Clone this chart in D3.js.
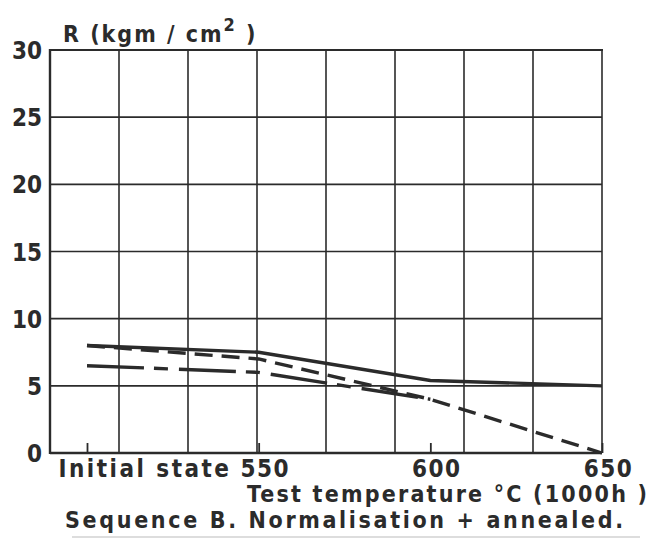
<!DOCTYPE html>
<html>
<head>
<meta charset="utf-8">
<script src="https://cdn.jsdelivr.net/npm/d3@7"></script>
<style>
  body { margin: 0; background: #fff; }
  svg { display: block; }
  text { font-family: 'DejaVu Sans Condensed', 'DejaVu Sans', sans-serif; font-stretch: condensed; font-weight: bold; fill: #2b2b2b; }
  .grid line, .grid path { stroke: #2b2b2b; stroke-width: 1.6; }
</style>
</head>
<body>
<div class="container"></div>
<script>
// temperatures ("Initial state" is placed as if it were 500)
const temps = [500, 550, 600, 650];
const tickLabels = ['Initial state', '550', '600', '650'];
const yTicks = [0, 5, 10, 15, 20, 25, 30];

// R (kgm/cm2)
const solidValues = [8.0, 7.5, 5.4, 5.0];
const dashedValues = [8.0, 7.0, 4.0, 0.0];
const longDashValues = [6.5, 6.0, 4.0];

const config = {w: 653, h: 538, left: 50, right: 602, top: 50, bottom: 453};

const svg = d3.select('.container').append('svg')
  .attr('width', config.w)
  .attr('height', config.h);

const y = d3.scaleLinear().domain([0, 30]).range([config.bottom, config.top]);
const gx = d3.scaleLinear().domain([0, 8]).range([config.left, config.right]);
const x = d3.scaleLinear().domain([500, 650]).range([87, config.right]);

// grid
const grid = svg.append('g').attr('class', 'grid');
grid.selectAll('line.v')
  .data(d3.range(0, 9))
  .enter().append('line')
    .attr('class', 'v')
    .attr('x1', d => gx(d)).attr('x2', d => gx(d))
    .attr('y1', config.top).attr('y2', config.bottom);
grid.selectAll('line.h')
  .data(yTicks)
  .enter().append('line')
    .attr('class', 'h')
    .attr('x1', config.left).attr('x2', config.right)
    .attr('y1', d => y(d)).attr('y2', d => y(d));

// frame: left and top a little heavier
svg.append('line')
  .attr('x1', config.left).attr('x2', config.left)
  .attr('y1', config.top - 1).attr('y2', config.bottom + 1)
  .attr('stroke', '#2b2b2b').attr('stroke-width', 2.4);
svg.append('line')
  .attr('x1', config.left).attr('x2', config.right + 1)
  .attr('y1', config.top).attr('y2', config.top)
  .attr('stroke', '#2b2b2b').attr('stroke-width', 2.2);

// y axis labels
const yAxis = svg.append('g')
  .attr('transform', `translate(${config.left},0)`)
  .call(d3.axisLeft(y).tickValues(yTicks).tickSize(0).tickPadding(8));
yAxis.select('.domain').remove();
yAxis.selectAll('text')
  .attr('font-size', 24)
  .attr('fill', '#2b2b2b')
  .attr('font-family', null)
  .attr('dy', '0.36em');

// x axis
const xAxis = svg.append('g')
  .attr('transform', `translate(0,${config.bottom})`)
  .call(d3.axisBottom(x)
    .tickValues(temps)
    .tickSize(-10)
    .tickPadding(5)
    .tickFormat((d, i) => tickLabels[i]));
xAxis.select('.domain')
  .attr('d', `M${config.left},0H${config.right}`)
  .attr('stroke', '#2b2b2b').attr('stroke-width', 2.6);
xAxis.selectAll('.tick line').attr('stroke', '#2b2b2b').attr('stroke-width', 1.8);
xAxis.selectAll('text')
  .attr('font-size', 24)
  .attr('fill', '#2b2b2b')
  .attr('font-family', null)
  .attr('letter-spacing', 1.5)
  .attr('dy', '0.78em');
xAxis.selectAll('.tick').filter(d => d === 500).select('text')
  .attr('text-anchor', 'start')
  .attr('x', 58 - x(500))
  .attr('textLength', 172)
  .attr('lengthAdjust', 'spacing');
xAxis.selectAll('.tick').filter(d => d !== 500).select('text')
  .attr('dx', 6);

// series
const line = d3.line()
  .x((d, i) => x(temps[i]))
  .y(d => y(d));

const series = [
  {values: solidValues, dash: null},
  {values: dashedValues, dash: '18,9'},
  {values: longDashValues, dash: '57,10,14,11'}
];

svg.append('g').selectAll('path')
  .data(series)
  .enter().append('path')
    .attr('d', d => line(d.values))
    .attr('fill', 'none')
    .attr('stroke', '#2b2b2b')
    .attr('stroke-width', 3.4)
    .attr('stroke-dasharray', d => d.dash);

// titles
const yTitle = svg.append('text')
  .attr('x', 63)
  .attr('y', 42)
  .attr('font-size', 23)
  .attr('letter-spacing', 2);
yTitle.append('tspan').text('R (kgm / cm');
yTitle.append('tspan').attr('font-size', 18).attr('dy', -11).text('2');
yTitle.append('tspan').attr('dy', 11).text(' )');

svg.append('text')
  .attr('x', 247)
  .attr('y', 502)
  .attr('font-size', 23)
  .attr('textLength', 400)
  .attr('lengthAdjust', 'spacing')
  .text('Test  temperature °C (1000h )');

svg.append('text')
  .attr('x', 65)
  .attr('y', 528)
  .attr('font-size', 23)
  .attr('textLength', 558)
  .attr('lengthAdjust', 'spacing')
  .text('Sequence B. Normalisation + annealed.');

svg.append('line')
  .attr('x1', 72).attr('x2', 640)
  .attr('y1', 537).attr('y2', 537)
  .attr('stroke', '#bbb').attr('stroke-width', 1);
</script>
</body>
</html>
